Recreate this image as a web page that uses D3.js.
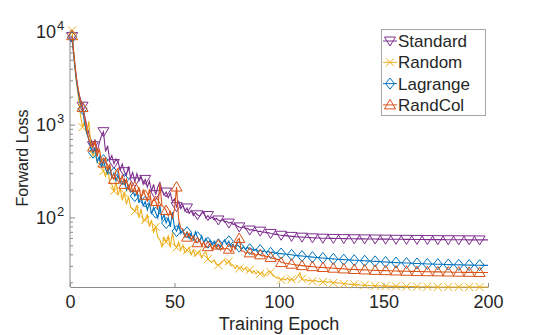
<!DOCTYPE html>
<html>
<head>
<meta charset="utf-8">
<script src="https://cdn.jsdelivr.net/npm/d3@7"></script>
<style>
  body { margin: 0; background: #fff; }
  svg text { font-family: "Liberation Sans", Arial, sans-serif; fill: #262626; }
</style>
</head>
<body>
<svg width="540" height="335"></svg>
<script>
// loss per epoch (epochs 1..200)
var standard = [
  9000, 5200, 3300, 2300, 1900, 1600, 1250, 1000, 820, 700,
  600, 700, 520, 640, 760, 850, 520, 600, 420, 470,
  385, 430, 400, 330, 380, 315, 290, 360, 270, 310,
  245, 300, 250, 280, 230, 260, 215, 250, 195, 230,
  178, 215, 240, 200, 175, 190, 165, 185, 150, 160,
  132, 150, 126, 138, 118, 128, 112, 120, 106, 114,
  108, 104, 112, 116, 100, 106, 98, 102, 95, 99,
  95, 92, 96, 90, 92, 88, 90, 85, 86, 81,
  80, 78, 80, 76, 77, 74, 75, 72.5, 73.5, 71.5,
  72, 70, 70.5, 69, 69.5, 68, 67.5, 66.5, 66.8, 65.5,
  65, 64.5, 64.8, 64, 63.6, 63.2, 63.5, 62.8, 62.5, 62.2,
  62, 61.8, 61.9, 61.5, 61.3, 61, 60.9, 60.7, 60.8, 60.5,
  60.4, 60.3, 60.3, 60.2, 60.1, 60.1, 60.0, 60.0, 59.9, 59.9,
  59.8, 59.8, 59.7, 59.7, 59.6, 59.6, 59.5, 59.5, 59.5, 59.4,
  59.4, 59.3, 59.3, 59.3, 59.2, 59.2, 59.1, 59.1, 59.1, 59.0,
  59.0, 59.0, 58.9, 58.9, 58.9, 58.8, 58.8, 58.8, 58.8, 58.7,
  58.7, 58.7, 58.6, 58.6, 58.6, 58.6, 58.5, 58.5, 58.5, 58.5,
  58.4, 58.4, 58.4, 58.4, 58.3, 58.3, 58.3, 58.3, 58.3, 58.2,
  58.2, 58.2, 58.2, 58.2, 58.1, 58.1, 58.1, 58.1, 58.1, 58.0,
  58.0, 58.0, 58.0, 58.0, 57.9, 57.9, 57.9, 57.9, 57.9, 57.9
];
var random = [
  10500, 5000, 3000, 2000, 1300, 950, 1100, 800, 1100, 600,
  480, 560, 400, 380, 440, 320, 280, 350, 240, 230,
  195, 245, 175, 210, 155, 185, 140, 170, 130, 125,
  118, 138, 100, 125, 92, 95, 110, 80, 95, 70,
  80, 62, 58, 49, 62, 55, 64, 48, 70, 52,
  48, 55, 45, 51, 42, 45, 48, 40, 45, 39,
  42, 44, 37, 41, 43, 36, 34, 33.5, 35, 31.5,
  31, 32, 34, 35.5, 32, 34, 30.5, 31, 28.5, 30.5,
  28.5, 29.5, 27.5, 29, 26.5, 27.5, 25.5, 27, 25, 26.5,
  25, 25.8, 23.8, 25.2, 26.5, 26, 24, 23.2, 22.5, 22.3,
  21.6, 22, 21.5, 22.5, 21.3, 21.8, 21.2, 22, 23.5, 25.6,
  22, 21.3, 21.6, 21, 21.3, 20.8, 21.2, 20.9, 20.5, 20.9,
  20.4, 20.7, 20.2, 20.5, 20.3, 19.9, 20.2, 19.8, 20, 19.6,
  19.4, 19.6, 19.3, 19.4, 19.1, 19.2, 19, 19.1, 18.9, 18.8,
  18.9, 18.7, 18.8, 18.6, 18.7, 18.5, 18.6, 18.5, 18.5, 18.4,
  18.4, 18.4, 18.3, 18.4, 18.3, 18.3, 18.3, 18.2, 18.3, 18.2,
  18.2, 18.2, 18.2, 18.2, 18.1, 18.2, 18.1, 18.1, 18.1, 18.1,
  18.1, 18.1, 18.1, 18.0, 18.1, 18.0, 18.0, 18.0, 18.0, 18.0,
  18.0, 18.0, 18.0, 18.0, 18.0, 18.0, 18.0, 18.0, 18.0, 18.0,
  18.0, 18.0, 18.0, 18.0, 18.0, 18.0, 18.0, 18.0, 18.0, 18.0
];
var lagrange = [
  8900, 5000, 3100, 2200, 1700, 1500, 1050, 820, 700, 560,
  505, 560, 400, 460, 350, 420, 340, 300, 360, 270,
  305, 250, 290, 240, 230, 260, 200, 225, 190, 200,
  172, 190, 145, 170, 135, 150, 122, 145, 110, 130,
  114, 100, 135, 95, 108, 88, 100, 80, 115, 78,
  72, 85, 68, 75, 62, 70, 60, 68, 58, 71,
  62, 56, 64, 54, 60, 54, 57, 51, 56, 50,
  52, 49, 54, 58, 52, 56, 49, 52, 47, 51,
  49, 46, 49, 45.5, 48, 46, 46.5, 44.5, 46, 43.5,
  45, 43.5, 44.5, 42.5, 43.5, 42, 43, 41.5, 42.2, 41.2,
  41.3, 41, 40.8, 40.5, 40.3, 40, 39.7, 39.5, 39.2, 39,
  38.8, 38.6, 38.4, 38.2, 38, 37.8, 37.6, 37.4, 37.3, 37.1,
  37, 36.8, 36.6, 36.5, 36.3, 36.2, 36, 35.9, 35.7, 35.6,
  35.5, 35.4, 35.3, 35.2, 35.1, 35, 34.9, 34.8, 34.7, 34.6,
  34.5, 34.4, 34.3, 34.2, 34.1, 34.0, 33.9, 33.8, 33.7, 33.6,
  33.5, 33.4, 33.3, 33.2, 33.1, 33.0, 32.9, 32.9, 32.8, 32.7,
  32.6, 32.6, 32.5, 32.4, 32.3, 32.3, 32.2, 32.1, 32.1, 32.0,
  31.9, 31.9, 31.8, 31.8, 31.7, 31.7, 31.6, 31.6, 31.5, 31.5,
  31.4, 31.4, 31.3, 31.3, 31.3, 31.2, 31.2, 31.1, 31.1, 31.1,
  31.0, 31.0, 31.0, 30.9, 30.9, 30.9, 30.8, 30.8, 30.8, 30.8
];
var randcol = [
  9200, 5400, 3300, 2400, 1800, 1550, 1200, 900, 700, 620,
  580, 680, 460, 560, 410, 390, 450, 320, 380, 280,
  260, 320, 340, 240, 290, 230, 260, 200, 245, 190,
  215, 180, 215, 165, 200, 175, 150, 205, 140, 160,
  150, 125, 235, 135, 130, 120, 105, 118, 100, 125,
  215, 95, 78, 75, 64, 62, 68, 58, 64, 55,
  54, 58, 50, 55, 48, 49, 53, 46, 51, 47,
  51, 45, 48, 46, 47, 46, 43, 51, 46, 57,
  60, 44, 44, 41.5, 43, 42, 40.5, 41.5, 39.5, 40.5,
  40, 38.8, 39.5, 38, 38.5, 37.5, 36.5, 37, 35.5, 35.5,
  33, 32.8, 32.5, 32.2, 32, 31.7, 31.5, 31.2, 31, 30.8,
  30.6, 30.4, 30.2, 30, 30, 29.8, 29.7, 29.5, 29.4, 29.3,
  29.2, 29.1, 29, 28.9, 28.8, 28.7, 28.6, 28.5, 28.4, 28.3,
  28.2, 28.1, 28, 27.9, 27.9, 27.8, 27.7, 27.7, 27.6, 27.5,
  27.5, 27.4, 27.4, 27.3, 27.3, 27.2, 27.2, 27.1, 27.1, 27.0,
  27.0, 26.9, 26.9, 26.9, 26.8, 26.8, 26.7, 26.7, 26.7, 26.6,
  26.6, 26.6, 26.5, 26.5, 26.5, 26.4, 26.4, 26.4, 26.4, 26.3,
  26.3, 26.3, 26.3, 26.2, 26.2, 26.2, 26.2, 26.1, 26.1, 26.1,
  26.1, 26.1, 26.0, 26.0, 26.0, 26.0, 26.0, 25.9, 25.9, 25.9,
  25.9, 25.9, 25.9, 25.8, 25.8, 25.8, 25.8, 25.8, 25.8, 25.8
];

var names = ["Standard", "Random", "Lagrange", "RandCol"];
var colors = ["#7E2F8E", "#EDB120", "#0072BD", "#D95319"];
var xTicks = [0, 50, 100, 150, 200];
var yTicks = [100, 1000, 10000];

var epochs = d3.range(1, standard.length + 1);
var allSeries = [standard, random, lagrange, randcol];

var svg = d3.select("svg");

var x = d3.scaleLinear().domain([0, 200]).range([70, 488]);
var y = d3.scaleLog().domain([18, 10600]).range([287, 30]);

// marker shapes, centred on the point
var markers = [
    "M-5.5,-4L5.5,-4L0,5Z",                  // triangle down
    "M-4,-4L4,4M-4,4L4,-4",                  // cross
    "M0,-5.5L4.5,0L0,5.5L-4.5,0Z",           // diamond
    "M0,-5.5L5.5,4L-5.5,4Z"                  // triangle up
];

// axes
var axes = svg.append("g").attr("class", "axes");

var xAxis = d3.axisBottom(x)
    .tickValues(xTicks)
    .tickSizeInner(-4)
    .tickSizeOuter(0)
    .tickPadding(8);
var gx = axes.append("g").attr("transform", "translate(0,287)").call(xAxis);
gx.select(".domain").attr("stroke", "#8a8a8a");
gx.selectAll(".tick line").attr("stroke", "#8a8a8a");
gx.selectAll(".tick text")
    .attr("font-size", 18)
    .attr("font-family", "Liberation Sans, Arial, sans-serif")
    .attr("fill", "#262626");

// y axis: log ticks, labels only on decades
var minor = y.ticks().filter(function(v) { return v >= 18 && v <= 10600; });
axes.append("line")
    .attr("x1", 70).attr("x2", 70)
    .attr("y1", y.range()[1]).attr("y2", y.range()[0])
    .attr("stroke", "#8a8a8a");
axes.selectAll(".ytick")
    .data(minor)
    .enter().append("line")
    .attr("class", "ytick")
    .attr("x1", 70)
    .attr("x2", function(d) { return yTicks.indexOf(d) >= 0 ? 75 : 73; })
    .attr("y1", function(d) { return y(d); })
    .attr("y2", function(d) { return y(d); })
    .attr("stroke", "#8a8a8a");

axes.selectAll(".ylab")
    .data(yTicks)
    .enter().append("text")
    .attr("class", "ylab")
    .attr("x", 56)
    .attr("y", function(d) { return y(d) + 6; })
    .attr("text-anchor", "end")
    .attr("font-size", 18)
    .text("10");
axes.selectAll(".yexp")
    .data(yTicks)
    .enter().append("text")
    .attr("class", "yexp")
    .attr("x", 57)
    .attr("y", function(d) { return y(d) - 2; })
    .attr("font-size", 13)
    .text(function(d) { return Math.round(Math.log10(d)); });

svg.append("text")
    .attr("transform", "translate(28,158) rotate(-90)")
    .attr("text-anchor", "middle")
    .attr("font-size", 16)
    .text("Forward Loss");

svg.append("text")
    .attr("x", 279)
    .attr("y", 330)
    .attr("text-anchor", "middle")
    .attr("font-size", 18)
    .text("Training Epoch");

// lines + markers
var line = d3.line()
    .x(function(d, i) { return x(epochs[i]); })
    .y(function(d) { return y(d); });

allSeries.forEach(function(s, k) {
    var g = svg.append("g").attr("class", "series");
    g.append("path")
        .attr("d", line(s))
        .attr("fill", "none")
        .attr("stroke", colors[k])
        .attr("stroke-width", 1.1);
    var pts = s.map(function(v, i) { return {e: epochs[i], v: v}; })
        .filter(function(d, i) { return i % 5 === 0; });
    g.selectAll(".mk")
        .data(pts)
        .enter().append("path")
        .attr("class", "mk")
        .attr("transform", function(d) { return "translate(" + x(d.e) + "," + y(d.v) + ")"; })
        .attr("d", markers[k])
        .attr("fill", "none")
        .attr("stroke", colors[k])
        .attr("stroke-width", 1);
});

// legend
var leg = svg.append("g").attr("class", "legend");
leg.append("rect")
    .attr("x", 381.5).attr("y", 29.5)
    .attr("width", 104).attr("height", 86)
    .attr("fill", "#fff")
    .attr("stroke", "#a6a6a6");
names.forEach(function(n, k) {
    var cy = 41 + k * 21.3;
    leg.append("line")
        .attr("x1", 383).attr("x2", 397)
        .attr("y1", cy).attr("y2", cy)
        .attr("stroke", colors[k]);
    leg.append("path")
        .attr("transform", "translate(390," + cy + ")")
        .attr("d", markers[k])
        .attr("fill", "none")
        .attr("stroke", colors[k]);
    leg.append("text")
        .attr("x", 398)
        .attr("y", cy + 6)
        .attr("font-size", 17)
        .text(n);
});
</script>
</body>
</html>
